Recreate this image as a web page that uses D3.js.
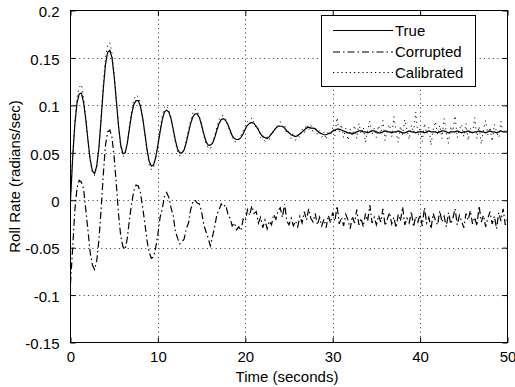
<!DOCTYPE html>
<html><head><meta charset="utf-8">
<script src="https://cdn.jsdelivr.net/npm/d3@7"></script>
<style>body{margin:0;background:#fff} text{font-family:"Liberation Sans",Arial,sans-serif;fill:#000}</style>
</head><body><svg id="c" width="515" height="387"></svg>
<script>
const dt = 0.25; // sample spacing in seconds
const trueVals = [
0.000,0.045,0.080,0.103,0.112,0.113,0.103,0.085,0.063,0.043,0.031,0.028,0.036,0.055,0.085,0.117,0.143,0.156,0.158,0.150,
0.130,0.104,0.078,0.058,0.049,0.050,0.060,0.076,0.091,0.101,0.105,0.105,0.099,0.087,0.071,0.054,0.041,0.036,0.037,0.045,
0.058,0.072,0.085,0.093,0.095,0.093,0.086,0.075,0.063,0.054,0.050,0.050,0.053,0.061,0.071,0.081,0.088,0.091,0.091,0.087,
0.079,0.070,0.062,0.058,0.058,0.060,0.066,0.074,0.081,0.085,0.086,0.084,0.080,0.074,0.068,0.065,0.064,0.064,0.066,0.070,
0.075,0.079,0.081,0.082,0.081,0.078,0.074,0.070,0.067,0.066,0.065,0.067,0.070,0.073,0.076,0.078,0.078,0.078,0.076,0.073,
0.071,0.069,0.068,0.067,0.068,0.070,0.072,0.074,0.076,0.077,0.076,0.076,0.075,0.073,0.071,0.070,0.069,0.069,0.070,0.071,
0.073,0.074,0.075,0.075,0.074,0.073,0.072,0.071,0.071,0.070,0.071,0.072,0.073,0.073,0.072,0.072,0.071,0.072,0.073,0.073,
0.072,0.071,0.071,0.072,0.073,0.072,0.072,0.071,0.072,0.072,0.073,0.072,0.071,0.071,0.072,0.073,0.072,0.072,0.071,0.072,
0.072,0.072,0.071,0.072,0.073,0.072,0.072,0.072,0.071,0.072,0.073,0.073,0.072,0.071,0.072,0.072,0.072,0.073,0.072,0.071,
0.072,0.072,0.073,0.072,0.071,0.072,0.072,0.073,0.072,0.072,0.071,0.072,0.073,0.072,0.072,0.071,0.072,0.073,0.072,0.072,
0.072];
const corruptedVals = [
-0.088,-0.050,-0.010,0.013,0.021,0.019,0.012,-0.010,-0.032,-0.055,-0.068,-0.073,-0.064,-0.042,-0.010,0.027,0.058,0.072,0.074,0.066,
0.045,0.016,-0.015,-0.038,-0.049,-0.052,-0.040,-0.020,-0.003,0.010,0.016,0.015,0.008,-0.007,-0.024,-0.042,-0.055,-0.061,-0.060,-0.050,
-0.036,-0.018,-0.009,0.004,0.008,0.003,-0.008,-0.016,-0.033,-0.040,-0.046,-0.044,-0.041,-0.030,-0.024,-0.010,-0.002,0.000,-0.003,-0.004,
-0.012,-0.026,-0.033,-0.040,-0.048,-0.038,-0.028,-0.015,-0.010,-0.004,-0.007,-0.005,-0.014,-0.019,-0.027,-0.024,-0.031,-0.028,-0.032,-0.020,
-0.022,-0.010,-0.016,-0.006,-0.014,-0.012,-0.024,-0.018,-0.029,-0.021,-0.030,-0.022,-0.026,-0.015,-0.020,-0.011,-0.008,-0.018,-0.004,-0.022,
-0.026,-0.019,-0.027,-0.022,-0.028,-0.017,-0.024,-0.012,-0.021,-0.009,-0.019,-0.023,-0.014,-0.026,-0.018,-0.027,-0.020,-0.029,-0.016,-0.024,
-0.013,-0.022,-0.006,-0.025,-0.018,-0.027,-0.015,-0.021,-0.030,-0.017,-0.024,-0.010,-0.026,-0.019,-0.028,-0.014,-0.022,-0.005,-0.024,-0.018,
-0.026,-0.016,-0.023,-0.009,-0.027,-0.020,-0.013,-0.025,-0.018,-0.029,-0.015,-0.022,-0.007,-0.026,-0.019,-0.024,-0.012,-0.028,-0.017,-0.023,
-0.015,-0.027,-0.008,-0.024,-0.018,-0.030,-0.014,-0.021,-0.026,-0.011,-0.023,-0.017,-0.028,-0.013,-0.025,-0.019,-0.009,-0.026,-0.016,-0.022,
-0.029,-0.014,-0.021,-0.011,-0.025,-0.018,-0.027,-0.006,-0.023,-0.016,-0.028,-0.019,-0.012,-0.025,-0.017,-0.030,-0.013,-0.022,-0.009,-0.026,
-0.020];
const calibratedVals = [
0.004,0.048,0.084,0.108,0.119,0.122,0.108,0.087,0.064,0.042,0.029,0.026,0.035,0.056,0.088,0.122,0.150,0.164,0.166,0.155,
0.134,0.106,0.077,0.056,0.046,0.048,0.061,0.079,0.095,0.106,0.111,0.109,0.102,0.088,0.070,0.052,0.038,0.032,0.035,0.046,
0.060,0.075,0.089,0.098,0.100,0.095,0.088,0.073,0.061,0.051,0.047,0.049,0.054,0.063,0.074,0.084,0.092,0.096,0.094,0.088,
0.081,0.068,0.060,0.055,0.054,0.061,0.068,0.077,0.085,0.089,0.089,0.086,0.079,0.072,0.066,0.062,0.061,0.065,0.068,0.073,
0.078,0.083,0.080,0.087,0.082,0.075,0.076,0.066,0.069,0.062,0.067,0.064,0.073,0.071,0.079,0.076,0.083,0.077,0.079,0.070,
0.074,0.065,0.071,0.063,0.070,0.066,0.075,0.071,0.080,0.074,0.079,0.072,0.078,0.069,0.074,0.066,0.072,0.064,0.073,0.068,
0.077,0.068,0.087,0.071,0.080,0.066,0.076,0.063,0.075,0.068,0.079,0.065,0.081,0.070,0.077,0.061,0.074,0.083,0.069,0.076,
0.066,0.079,0.070,0.084,0.063,0.075,0.080,0.067,0.088,0.072,0.061,0.078,0.069,0.085,0.074,0.064,0.079,0.071,0.093,0.068,
0.076,0.062,0.081,0.070,0.077,0.058,0.074,0.083,0.069,0.079,0.065,0.086,0.072,0.060,0.078,0.073,0.089,0.066,0.075,0.080,
0.067,0.081,0.063,0.076,0.071,0.087,0.065,0.078,0.059,0.074,0.084,0.069,0.077,0.062,0.080,0.072,0.066,0.083,0.070,0.075,
0.071];
const xTicks = [0, 10, 20, 30, 40, 50];
const xTickLabels = ["0", "10", "20", "30", "40", "50"];
const yTicks = [-0.15, -0.1, -0.05, 0, 0.05, 0.1, 0.15, 0.2];
const yTickLabels = ["-0.15", "-0.1", "-0.05", "0", "0.05", "0.1", "0.15", "0.2"];
const legendLabels = ["True", "Corrupted", "Calibrated"];
const xLabel = "Time (seconds)";
const yLabel = "Roll Rate (radians/sec)";

const L = 70.5, R = 507.5, T = 10.5, B = 342.5;
const svg = d3.select("#c");
svg.append("rect").attr("width",515).attr("height",387).attr("fill","#fff");
const x = d3.scaleLinear().domain([0,50]).range([L,R]);
const y = d3.scaleLinear().domain([-0.15,0.2]).range([B,T]);
const FS = "15px";

// grid
const grid = svg.append("g").attr("stroke","#333").attr("stroke-width",1).attr("stroke-dasharray","1,3.4");
xTicks.slice(1,-1).forEach(v => grid.append("line").attr("x1",Math.round(x(v))+0.5).attr("x2",Math.round(x(v))+0.5).attr("y1",T).attr("y2",B));
yTicks.slice(1,-1).forEach(v => grid.append("line").attr("y1",Math.round(y(v))+0.5).attr("y2",Math.round(y(v))+0.5).attr("x1",L).attr("x2",R));

// clip
svg.append("clipPath").attr("id","pa").append("rect").attr("x",L).attr("y",T).attr("width",R-L).attr("height",B-T);
const plot = svg.append("g").attr("clip-path","url(#pa)");
const mk = vals => vals.map((v,i)=>[i*dt, v]);
const line = d3.line().x(d=>x(d[0])).y(d=>y(d[1]));
plot.append("path").datum(mk(trueVals)).attr("d",line).attr("fill","none").attr("stroke","#000").attr("stroke-width",1.2);
plot.append("path").datum(mk(corruptedVals)).attr("d",line).attr("fill","none").attr("stroke","#000").attr("stroke-width",1.2).attr("stroke-dasharray","7,3,1.5,3");
plot.append("path").datum(mk(calibratedVals)).attr("d",line).attr("fill","none").attr("stroke","#111").attr("stroke-width",1).attr("stroke-dasharray","1.2,3.8");

// axes with inward ticks
const ax = (gen, tr) => {
  const g = svg.append("g").attr("transform",tr).call(gen);
  g.select(".domain").remove();
  g.selectAll(".tick line").attr("stroke","#000");
  g.selectAll("text").style("font-size",FS).style("font-family","'Liberation Sans',Arial,sans-serif");
  return g;
};
ax(d3.axisBottom(x).tickValues(xTicks).tickFormat((d,i)=>xTickLabels[i]).tickSize(-5).tickPadding(9), `translate(0,${B})`)
  .selectAll("text").attr("dy","0.71em");
ax(d3.axisTop(x).tickValues(xTicks).tickFormat("").tickSize(-5), `translate(0,${T})`);
ax(d3.axisLeft(y).tickValues(yTicks).tickFormat((d,i)=>yTickLabels[i]).tickSize(-5).tickPadding(11), `translate(${L},0)`)
  .selectAll("text").attr("dy","0.42em");
ax(d3.axisRight(y).tickValues(yTicks).tickFormat("").tickSize(-5), `translate(${R},0)`);
svg.append("rect").attr("x",L).attr("y",T).attr("width",R-L).attr("height",B-T).attr("fill","none").attr("stroke","#000").attr("stroke-width",1);

// labels
svg.append("text").attr("x",(L+R)/2 - 2).attr("y",382).attr("text-anchor","middle").style("font-size",FS).text(xLabel);
svg.append("text").attr("transform",`translate(20,${(T+B)/2}) rotate(-90)`).attr("text-anchor","middle").style("font-size",FS).text(yLabel);

// legend
const lg = svg.append("g");
lg.append("rect").attr("x",321.5).attr("y",15.5).attr("width",154).attr("height",71).attr("fill","#fff").attr("stroke","#000");
const dashes = [null, "7,3,1.5,3", "1.2,3"];
const ly = [30, 51.5, 72];
legendLabels.forEach((lab,i)=>{
  const l = lg.append("line").attr("x1",333).attr("x2",393).attr("y1",ly[i]+0.5).attr("y2",ly[i]+0.5).attr("stroke","#000").attr("stroke-width",1.2);
  if (dashes[i]) l.attr("stroke-dasharray",dashes[i]);
  lg.append("text").attr("x",395).attr("y",ly[i]+5.5).style("font-size",FS).text(lab);
});
</script></body></html>
